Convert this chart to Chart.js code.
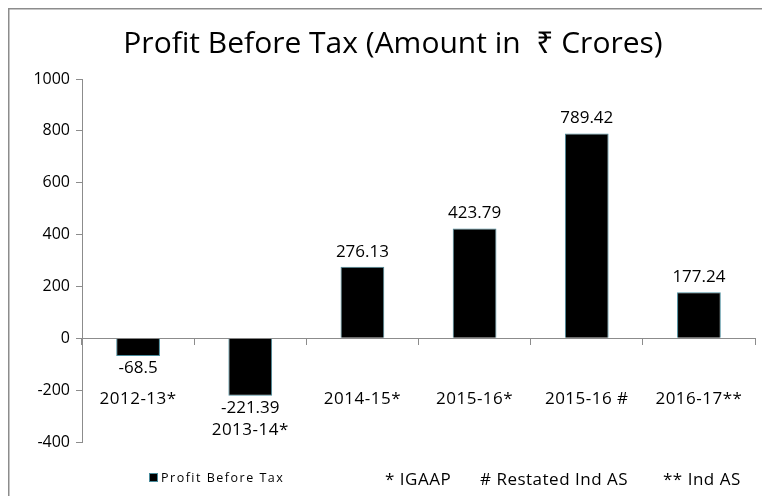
<!DOCTYPE html>
<html>
<head>
<meta charset="utf-8">
<script src="https://cdn.jsdelivr.net/npm/chart.js@4/dist/chart.umd.min.js"></script>
<style>
  html, body { margin: 0; padding: 0; background: #fff; }
  #wrap { width: 762px; height: 496px; position: relative; }
</style>
</head>
<body>
<div id="wrap"><canvas id="chart" width="762" height="496"></canvas></div>
<script>
// chart data
const categories = ['2012-13*', '2013-14*', '2014-15*', '2015-16*', '2015-16 #', '2016-17**'];
const profitBeforeTax = [-68.5, -221.39, 276.13, 423.79, 789.42, 177.24];
const valueLabels = ['-68.5', '-221.39', '276.13', '423.79', '789.42', '177.24'];
const yTicks = [-400, -200, 0, 200, 400, 600, 800, 1000];
const titleText = 'Profit Before Tax (Amount in  \u20B9 Crores)';
const seriesName = 'Profit Before Tax';
const footnotes = ['* IGAAP', '# Restated Ind AS', '** Ind AS'];

const FONT = "'Open Sans', 'Noto Sans', sans-serif";

// frame, title, category labels, value labels, legend, footnotes
const decorPlugin = {
  id: 'decor',
  beforeDraw(chart) {
    const ctx = chart.ctx;
    ctx.save();
    ctx.strokeStyle = '#8c8c8c';
    ctx.lineWidth = 1.5;
    ctx.strokeRect(8.75, 8.75, 800, 600);
    ctx.restore();
  },
  afterDraw(chart) {
    const ctx = chart.ctx;
    const x = chart.scales.x;
    const y = chart.scales.y;
    const zero = y.getPixelForValue(0);
    ctx.save();

    // title
    ctx.fillStyle = '#000';
    ctx.textAlign = 'center';
    ctx.textBaseline = 'middle';
    ctx.font = `30px ${FONT}`;
    ctx.fillText(titleText, 393, 44);

    // value labels
    ctx.font = `17px ${FONT}`;
    profitBeforeTax.forEach((v, i) => {
      const px = x.getPixelForValue(i);
      const py = y.getPixelForValue(v);
      const ly = v >= 0 ? py - 15 : py + 12;
      ctx.fillText(valueLabels[i], px, ly);
    });

    // category labels (2013-14 pushed below its value label)
    ctx.letterSpacing = '0.5px';
    categories.forEach((c, i) => {
      const px = x.getPixelForValue(i);
      const ly = i === 1 ? zero + 92 : zero + 61;
      ctx.fillText(c, px, ly);
    });

    // legend
    ctx.letterSpacing = '0px';
    ctx.fillStyle = '#000';
    ctx.strokeStyle = '#4a8c9c';
    ctx.lineWidth = 1;
    ctx.fillRect(149, 473, 8, 8);
    ctx.strokeRect(149.5, 473.5, 8, 8);
    ctx.fillStyle = '#000';
    ctx.textAlign = 'left';
    ctx.font = `12.5px ${FONT}`;
    ctx.letterSpacing = '1.5px';
    ctx.fillText(seriesName, 161, 478);

    // footnotes
    ctx.font = `17px ${FONT}`;
    ctx.letterSpacing = '0.5px';
    const fx = [385, 480, 663];
    footnotes.forEach((t, i) => ctx.fillText(t, fx[i], 480));

    ctx.restore();
  }
};

new Chart(document.getElementById('chart'), {
  type: 'bar',
  data: {
    labels: categories,
    datasets: [{
      label: seriesName,
      data: profitBeforeTax,
      backgroundColor: '#000000',
      borderColor: '#4a8c9c',
      borderWidth: 1,
      barPercentage: 0.39,
      categoryPercentage: 1.0,
    }],
  },
  options: {
    responsive: false,
    animation: false,
    layout: { padding: { left: 10, top: 79, right: 7, bottom: 54 } },
    plugins: {
      legend: { display: false },
      title: { display: false },
      tooltip: { enabled: false },
    },
    scales: {
      x: {
        position: { y: 0 },
        offset: true,
        border: { display: true, color: '#8c8c8c', width: 1 },
        grid: {
          display: true,
          offset: true,
          drawOnChartArea: false,
          drawTicks: true,
          tickLength: 6,
          color: '#8c8c8c',
        },
        ticks: { display: false },
      },
      y: {
        min: -400,
        max: 1000,
        afterBuildTicks: (s) => { s.ticks = yTicks.map((v) => ({ value: v })); },
        afterFit: (s) => { s.width = 72; },
        border: { display: true, color: '#8c8c8c', width: 1 },
        grid: {
          drawOnChartArea: false,
          drawTicks: true,
          tickLength: 6,
          color: '#8c8c8c',
        },
        ticks: {
          color: '#000',
          padding: 6,
          font: { family: FONT, size: 16 },
          callback: (v) => String(v),
        },
      },
    },
  },
  plugins: [decorPlugin],
});
</script>
</body>
</html>
